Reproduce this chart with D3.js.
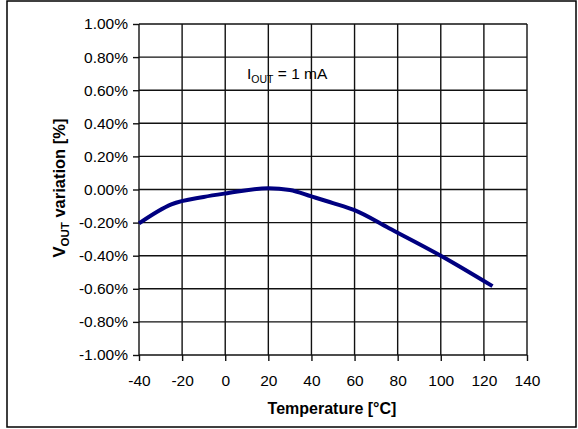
<!DOCTYPE html>
<html>
<head>
<meta charset="utf-8">
<script src="https://cdn.jsdelivr.net/npm/d3@7"></script>
<style>
  html, body { margin: 0; padding: 0; background: #fff; }
  svg { display: block; font-family: "Liberation Sans", Arial, Helvetica, sans-serif; }
</style>
</head>
<body>
<svg id="chart" width="578" height="429"></svg>
<script>
// Output voltage variation versus temperature, IOUT = 1 mA
const temperature = [-40, -25, -10, 0, 20, 30, 40, 50, 60, 76, 100, 124];
const variation   = [-0.205, -0.09, -0.045, -0.024, 0.008, -0.003, -0.042, -0.082, -0.125, -0.234, -0.40, -0.584];

const xTicks = [-40, -20, 0, 20, 40, 60, 80, 100, 120, 140];
const yTicks = [-1.0, -0.8, -0.6, -0.4, -0.2, 0.0, 0.2, 0.4, 0.6, 0.8, 1.0];

const svg = d3.select("#chart");
const W = 578, H = 429;
const plot = { left: 139, right: 527, top: 24, bottom: 355 };

// outer frame
svg.append("rect")
  .attr("x", 7).attr("y", 1)
  .attr("width", W - 9).attr("height", H - 3)
  .attr("fill", "none").attr("stroke", "#000").attr("stroke-width", 1.5);

const x = d3.scaleLinear().domain([-40, 140]).range([plot.left, plot.right]);
const y = d3.scaleLinear().domain([-1, 1]).range([plot.bottom, plot.top]);

// gridlines
const grid = svg.append("g").attr("stroke", "#111").attr("stroke-width", 1.4);
grid.selectAll("line.v").data(xTicks).join("line")
  .attr("class", "v")
  .attr("x1", d => x(d)).attr("x2", d => x(d))
  .attr("y1", plot.top).attr("y2", plot.bottom);
grid.selectAll("line.h").data(yTicks).join("line")
  .attr("class", "h")
  .attr("x1", plot.left).attr("x2", plot.right)
  .attr("y1", d => y(d)).attr("y2", d => y(d));

// plain hyphen for negative numbers
const hy = s => s.replace("\u2212", "-");

// axes
const xAxis = d3.axisBottom(x).tickValues(xTicks).tickSize(6).tickPadding(14)
  .tickFormat(d => hy(d3.format("d")(d)));
const yAxis = d3.axisLeft(y).tickValues(yTicks).tickSize(6).tickPadding(5)
  .tickFormat(d => hy(d3.format(".2f")(d)) + "%");

const gx = svg.append("g").attr("transform", `translate(0,${plot.bottom})`).call(xAxis);
const gy = svg.append("g").attr("transform", `translate(${plot.left},0)`).call(yAxis);
[gx, gy].forEach(g => {
  g.select(".domain").remove();
  g.selectAll(".tick line").attr("stroke", "#111").attr("stroke-width", 1.4);
  g.selectAll(".tick text")
    .attr("fill", "#000")
    .style("font-size", "15.5px")
    .style("font-family", "'Liberation Sans', Arial, sans-serif");
});

// curve
const line = d3.line()
  .x((d, i) => x(temperature[i]))
  .y(d => y(d))
  .curve(d3.curveMonotoneX);
svg.append("path")
  .datum(variation)
  .attr("d", line)
  .attr("fill", "none")
  .attr("stroke", "#000080")
  .attr("stroke-width", 4)
  .attr("stroke-linejoin", "round");

// annotation
const ann = svg.append("text")
  .attr("x", 247).attr("y", 79)
  .style("font-size", "15.5px");
ann.append("tspan").text("I");
ann.append("tspan").attr("dy", 4).style("font-size", "10.5px").text("OUT");
ann.append("tspan").attr("dy", -4).text(" = 1 mA");

// axis titles
svg.append("text")
  .attr("x", 332).attr("y", 414)
  .attr("text-anchor", "middle")
  .style("font-size", "16px").style("font-weight", "bold")
  .text("Temperature [°C]");

const yt = svg.append("text")
  .attr("transform", "translate(65,188) rotate(-90)")
  .attr("text-anchor", "middle")
  .style("font-size", "16.5px").style("font-weight", "bold");
yt.append("tspan").text("V");
yt.append("tspan").attr("dy", 4).style("font-size", "11.5px").text("OUT");
yt.append("tspan").attr("dy", -4).text(" variation [%]");
</script>
</body>
</html>
